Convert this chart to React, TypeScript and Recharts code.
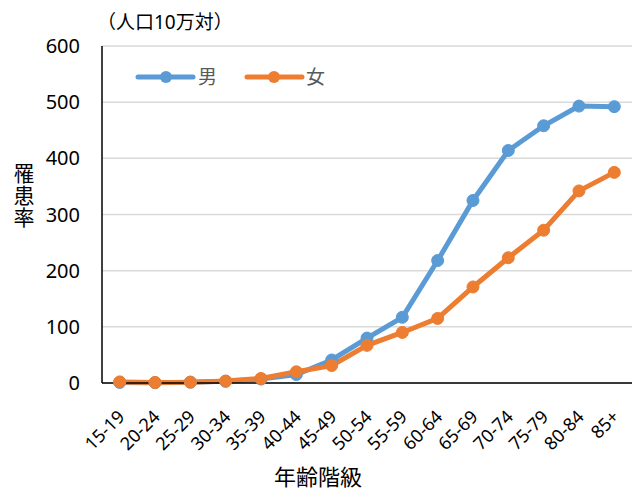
import { LineChart, Line, XAxis, YAxis, CartesianGrid, Label } from 'recharts';

const ageGroups = ['15-19', '20-24', '25-29', '30-34', '35-39', '40-44', '45-49', '50-54', '55-59', '60-64', '65-69', '70-74', '75-79', '80-84', '85+'];
const maleRate = [1, 0.5, 1.5, 3, 7, 15, 41, 80, 117, 218, 325, 414, 458, 493, 492];
const femaleRate = [2, 1, 1.5, 3.5, 8, 20, 31, 67, 90, 115, 171, 223, 272, 342, 375];
const yTicks = [0, 100, 200, 300, 400, 500, 600];

const data = ageGroups.map((age, i) => ({ age, male: maleRate[i], female: femaleRate[i] }));

const FONT = '"Noto Sans", "Noto Sans CJK JP", sans-serif';
const BLUE = '#5B9BD5';
const ORANGE = '#ED7D31';

const AgeTick = ({ x, y, payload }: any) => (
  <g transform={`translate(${x + 6},${y + 27})`}>
    <text textAnchor="end" transform="rotate(-45)" fill="#000" fontSize={18} fontFamily={FONT}>
      {payload.value}
    </text>
  </g>
);

// legend drawn on top of the plot, like the Excel original
const LegendOverlay = () => (
  <svg width={200} height={30} style={{ position: 'absolute', left: 135, top: 62 }}>
    <line x1={3} y1={15} x2={58} y2={15} stroke={BLUE} strokeWidth={5} strokeLinecap="round" />
    <circle cx={31} cy={15} r={6} fill={BLUE} />
    <text x={63} y={22} fontSize={19} fill="#595959" fontFamily={FONT}>男</text>
    <line x1={112} y1={15} x2={167} y2={15} stroke={ORANGE} strokeWidth={5} strokeLinecap="round" />
    <circle cx={139} cy={15} r={6} fill={ORANGE} />
    <text x={171} y={22} fontSize={19} fill="#595959" fontFamily={FONT}>女</text>
  </svg>
);

const YTitle = () => (
  <text
    x={23}
    y={163}
    fontSize={21}
    fill="#000"
    fontFamily={FONT}
    letterSpacing={1}
    style={{ writingMode: 'vertical-rl' }}
  >
    罹患率
  </text>
);

export default function App() {
  return (
    <div style={{ position: 'absolute', left: 0, top: 0, width: 641, height: 493, background: '#fff' }}>
      <div style={{ position: 'absolute', left: 97, top: 7, fontSize: 19, fontFamily: FONT, color: '#000', zIndex: 2 }}>
        （人口10万対）
      </div>
      <LineChart width={641} height={493} data={data} margin={{ top: 46, right: 9, bottom: 0, left: 52 }}>
        <CartesianGrid vertical={false} stroke="#d9d9d9" strokeWidth={1.5} />
        <XAxis
          dataKey="age"
          interval={0}
          height={110}
          padding={{ left: 17.7, right: 17.7 }}
          axisLine={{ stroke: '#000', strokeWidth: 1.5 }}
          tickLine={false}
          tick={<AgeTick />}
        >
          <Label value="年齢階級" position="insideBottom" offset={8} dx={-49} fontSize={22} fill="#000" fontFamily={FONT} />
        </XAxis>
        <YAxis
          width={50}
          domain={[0, 600]}
          ticks={yTicks}
          axisLine={{ stroke: '#000', strokeWidth: 1.5 }}
          tickLine={false}
          tickMargin={16}
          tick={{ fill: '#000', fontSize: 20, fontFamily: FONT }}
        >
          <Label content={<YTitle />} />
        </YAxis>
        <Line dataKey="male" name="男" stroke={BLUE} strokeWidth={5} dot={{ r: 6, fill: BLUE, stroke: BLUE, strokeWidth: 1 }} isAnimationActive={false} />
        <Line dataKey="female" name="女" stroke={ORANGE} strokeWidth={5} dot={{ r: 6, fill: ORANGE, stroke: ORANGE, strokeWidth: 1 }} isAnimationActive={false} />
      </LineChart>
      <LegendOverlay />
    </div>
  );
}
